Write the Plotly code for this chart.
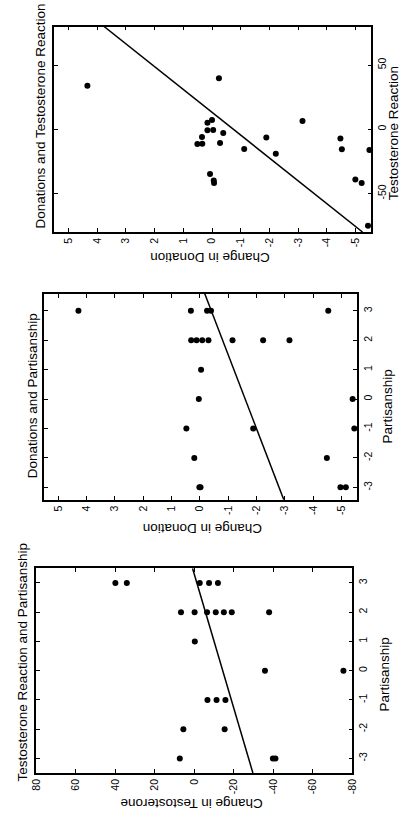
import plotly.graph_objects as go

W, H = 407, 821
FONT = "Liberation Sans, Arial, sans-serif"

# ---------------- Panel A: Donations and Testosterone Reaction ----------------
a_donation = [4.34, -0.24, 0.16, 0.0, 0.16, -0.04, 0.35, 0.51, 0.34, -0.39, -0.28, -1.12,
              -1.89, -2.22, -3.15, -4.47, -4.52, -5.48, -4.99, -5.21, -5.43, 0.07, -0.06, -0.07]
a_testo = [33.8, 39.8, 5.0, 7.2, -0.75, -0.6, -6.1, -11.4, -11.2, -2.9, -10.7, -15.4,
           -6.5, -19.0, 6.4, -7.2, -15.5, -16.1, -39.1, -41.8, -75.2, -34.9, -39.9, -41.8]
a_fit_testo = [80, -80]
a_fit_donation = [3.76, -5.24]

# ---------------- Panel B: Donations and Partisanship ----------------
b_party = [3, 3, 3, 3, 3, 2, 2, 2, 2, 2, 2, 2, 1, 0, 0, -1, -1, -1, -2, -2, -3, -3, -3, -3]
b_donation = [4.29, 0.32, -0.25, -0.39, -4.53, 0.31, 0.12, -0.08, -0.30, -1.15, -2.23, -3.16,
              -0.04, 0.04, -5.39, 0.48, -1.88, -5.45, 0.2, -4.48, -0.02, 0.02, -4.96, -5.15]
b_fit_party = [3.58, -3.42]
b_fit_donation = [-0.17, -2.96]

# ---------------- Panel C: Testosterone Reaction and Partisanship ----------------
c_party = [3, 3, 3, 3, 3, 2, 2, 2, 2, 2, 2, 2, 1, 0, 0, -1, -1, -1, -2, -2, -3, -3, -3]
c_testo = [39.9, 34.1, -2.8, -7.5, -12.0, 6.7, -0.2, -6.5, -10.9, -15.0, -19.0, -37.9,
           -0.3, -35.8, -75.5, -6.7, -11.3, -15.8, 5.5, -15.4, 7.3, -39.8, -41.1]
c_fit_party = [3.5, -3.5]
c_fit_testo = [0.86, -29.7]

donation_ticks = [-5, -4, -3, -2, -1, 0, 1, 2, 3, 4, 5]
testo_ticks_a = [-50, 0, 50]
testo_ticks_c = [-80, -60, -40, -20, 0, 20, 40, 60, 80]
party_ticks = [-3, -2, -1, 0, 1, 2, 3]

fig = go.Figure()

def add_panel(xs, ys, fx, fy, xa, ya):
    fig.add_trace(go.Scatter(x=fx, y=fy, mode="lines", xaxis=xa, yaxis=ya,
                             line=dict(color="black", width=1.5), hoverinfo="skip"))
    fig.add_trace(go.Scatter(x=xs, y=ys, mode="markers", xaxis=xa, yaxis=ya,
                             marker=dict(color="black", size=6)))

add_panel(a_donation, a_testo, a_fit_donation, a_fit_testo, "x", "y")
add_panel(b_donation, b_party, b_fit_donation, b_fit_party, "x2", "y2")
add_panel(c_testo, c_party, c_fit_testo, c_fit_party, "x3", "y3")


def axis(domain, rng, ticks, side, anchor):
    return dict(domain=domain, range=rng, tickvals=ticks, ticktext=[str(t) for t in ticks],
                tickangle=-90, ticks="inside", ticklen=4, tickwidth=1.2, tickcolor="black",
                showline=True, linecolor="black", linewidth=1.6, mirror="ticks",
                showgrid=False, zeroline=False, side=side, anchor=anchor,
                tickfont=dict(family=FONT, size=10.5, color="black"))

def px_x(v):
    return v / W

def px_y(v):
    return 1 - v / H

fig.update_layout(
    width=W, height=H, margin=dict(l=0, r=0, t=0, b=0),
    paper_bgcolor="white", plot_bgcolor="white", showlegend=False,
    xaxis=axis([px_x(48.5), px_x(375.5)], [5.5, -5.55], donation_ticks, "bottom", "y"),
    yaxis=axis([px_y(232), px_y(26.5)], [-80, 80], testo_ticks_a, "right", "x"),
    xaxis2=axis([px_x(38.3), px_x(360.8)], [5.5, -5.55], donation_ticks, "bottom", "y2"),
    yaxis2=axis([px_y(499.7), px_y(293.8)], [-3.42, 3.58], party_ticks, "right", "x2"),
    xaxis3=axis([px_x(30), px_x(355.8)], [80, -80], testo_ticks_c, "bottom", "y3"),
    yaxis3=axis([px_y(773), px_y(568.3)], [-3.5, 3.5], party_ticks, "right", "x3"),
)

texts = [
    ("Donations and Testosterone Reaction", 35, 115.5, -90),
    ("Change in Donation", 209, 258, 180),
    ("Testosterone Reaction", 398, 133, -90),
    ("Donations and Partisanship", 26, 396, -90),
    ("Change in Donation", 202, 529, 180),
    ("Partisanship", 392, 406, -90),
    ("Testosterone Reaction and Partisanship", 15, 662, -90),
    ("Change in Testosterone", 190, 804, 180),
    ("Partisanship", 388, 675, -90),
]
for t, x, y, ang in texts:
    fig.add_annotation(text=t, x=px_x(x), y=px_y(y), xref="paper", yref="paper",
                       xanchor="center", yanchor="middle", textangle=ang, showarrow=False,
                       borderpad=0, borderwidth=0,
                       font=dict(family=FONT, size=13.5, color="black"))

fig.write_html(
    "out.html",
    config={"displayModeBar": False},
    post_script="document.body.style.margin='0';document.body.style.overflow='hidden';",
)
